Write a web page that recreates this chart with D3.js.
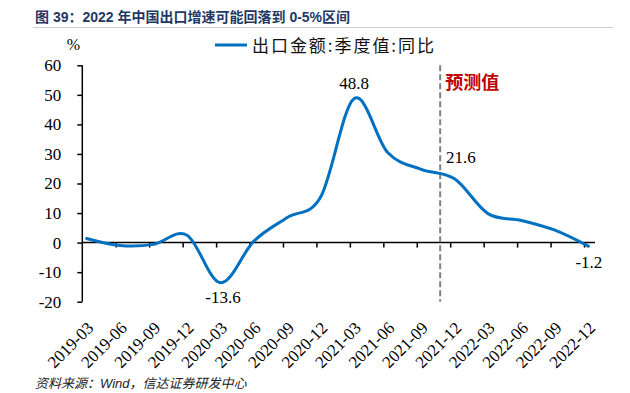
<!DOCTYPE html>
<html>
<head>
<meta charset="utf-8">
<script src="https://cdn.jsdelivr.net/npm/d3@7"></script>
<style>
  body { margin: 0; background: #fff; }
  svg { display: block; }
</style>
</head>
<body>
<svg id="chart" width="630" height="393"></svg>
<script>
// quarterly export growth, yoy %
const quarters = ['2019-03', '2019-06', '2019-09', '2019-12', '2020-03', '2020-06', '2020-09', '2020-12',
  '2021-03', '2021-06', '2021-09', '2021-12', '2022-03', '2022-06', '2022-09', '2022-12'];
const exportYoy = [1.4, -1.0, -0.6, 2.5, -13.6, 0.5, 8.5, 15.5, 48.8, 30.5, 24.8, 21.6, 9.8, 7.5, 4.2, -1.2];
const yTicks = [-20, -10, 0, 10, 20, 30, 40, 50, 60];
const labelled = ['2020-03', '2021-03', '2021-12', '2022-12'];

const seriesName = '出口金额:季度值:同比';
const titleText = '图 39：2022 年中国出口增速可能回落到 0-5%区间';
const sourceText = '资料来源：Wind，信达证券研发中心';

const svg = d3.select('#chart');
const serif = '"Liberation Serif"';
const cjk = '"Noto Sans CJK SC"';
const blue = '#0070c0';
const fmt = d3.formatLocale({ decimal: '.', thousands: ',', grouping: [3], currency: ['', ''], minus: '-' });

// plot frame
const plotLeft = 82.3, plotRight = 584, plotTop = 65.3, plotBottom = 301.7;
const dataShift = 0.13;      // points sit slightly right of the ticks
const forecastAt = 10.7;     // dashed divider, in quarter units

const x = d3.scaleLinear().domain([0, quarters.length - 1]).range([plotLeft, plotRight]);
const y = d3.scaleLinear().domain([-20, 60]).range([plotBottom, plotTop]);

// title
svg.append('text')
  .attr('x', 35).attr('y', 22)
  .style('font-family', '"Liberation Sans", "Noto Sans CJK SC"')
  .attr('font-weight', 'bold').attr('font-size', 14)
  .attr('fill', '#1f3864')
  .text(titleText);
svg.append('line')
  .attr('x1', 33).attr('x2', 613).attr('y1', 27.5).attr('y2', 27.5)
  .attr('stroke', '#d0d0d0').attr('stroke-width', 1);

// unit
svg.append('text')
  .attr('x', 73.5).attr('y', 50)
  .attr('text-anchor', 'middle')
  .style('font-family', serif).attr('font-size', 16)
  .text('%');

// legend
svg.append('line')
  .attr('x1', 215).attr('x2', 247).attr('y1', 45).attr('y2', 45)
  .attr('stroke', blue).attr('stroke-width', 3);
svg.append('text')
  .attr('x', 252).attr('y', 52)
  .style('font-family', cjk).attr('font-size', 17)
  .attr('textLength', 182).attr('lengthAdjust', 'spacing')
  .attr('fill', '#111')
  .text(seriesName);

// y axis
const yAxis = d3.axisLeft(y).tickValues(yTicks).tickSize(5).tickPadding(16).tickFormat(fmt.format('d'));
const gy = svg.append('g')
  .attr('transform', `translate(${plotLeft},0)`)
  .call(yAxis)
  .attr('font-family', 'Liberation Serif');
gy.select('.domain').attr('stroke', '#000').attr('stroke-width', 1.5)
  .attr('d', `M0,${plotTop}V${plotBottom}`);
gy.selectAll('.tick line').attr('stroke', '#000').attr('stroke-width', 1.5);
gy.selectAll('.tick text')
  .style('font-family', serif).attr('font-size', 17).attr('fill', '#000');

// x axis at zero, ticks down
const xAxis = d3.axisBottom(x).tickValues(d3.range(quarters.length)).tickSize(5).tickFormat('');
const gx = svg.append('g')
  .attr('transform', `translate(0,${y(0)})`)
  .call(xAxis);
gx.select('.domain').attr('stroke', '#000').attr('stroke-width', 1.5)
  .attr('d', `M${plotLeft},0H${plotRight + 11}`);
gx.selectAll('.tick line').attr('stroke', '#000').attr('stroke-width', 1.5);
gx.selectAll('.tick').filter((d) => d === 0).remove();

// category labels below the plot, rotated
svg.append('g')
  .attr('font-family', 'Liberation Serif')
  .selectAll('text')
  .data(quarters)
  .join('text')
  .attr('transform', (d, i) => `translate(${x(i) + 8},${plotBottom + 23}) rotate(-45)`)
  .attr('text-anchor', 'end')
  .attr('dy', '0.35em')
  .style('font-family', serif).attr('font-size', 17).attr('fill', '#000')
  .text((d) => d);

// forecast divider
svg.append('line')
  .attr('x1', x(forecastAt)).attr('x2', x(forecastAt))
  .attr('y1', plotTop).attr('y2', plotBottom)
  .attr('stroke', '#808080').attr('stroke-width', 2)
  .attr('stroke-dasharray', '6,3');
svg.append('text')
  .attr('x', x(forecastAt) + 5).attr('y', 89)
  .style('font-family', cjk).attr('font-weight', 'bold').attr('font-size', 18)
  .attr('fill', '#c00000')
  .text('预测值');

// series
const line = d3.line()
  .x((d, i) => x(i + dataShift))
  .y((d) => y(d))
  .curve(d3.curveCardinal.tension(0));
svg.append('path')
  .datum(exportYoy)
  .attr('d', line)
  .attr('fill', 'none')
  .attr('stroke', blue).attr('stroke-width', 3)
  .attr('stroke-linecap', 'round');

// data labels
const labelPlace = {
  '2020-03': { dx: 2.5, dy: 20.5, anchor: 'middle' },
  '2021-03': { dx: 0, dy: -9, anchor: 'middle' },
  '2021-12': { dx: -8.5, dy: -15.5, anchor: 'start' },
  '2022-12': { dx: 0.5, dy: 22, anchor: 'middle' }
};
svg.append('g')
  .attr('font-family', 'Liberation Serif')
  .selectAll('text')
  .data(labelled)
  .join('text')
  .attr('x', (q) => x(quarters.indexOf(q) + dataShift) + labelPlace[q].dx)
  .attr('y', (q) => y(exportYoy[quarters.indexOf(q)]) + labelPlace[q].dy)
  .attr('text-anchor', (q) => labelPlace[q].anchor)
  .style('font-family', serif).attr('font-size', 17).attr('fill', '#000')
  .text((q) => fmt.format('.1f')(exportYoy[quarters.indexOf(q)]));

// source note
svg.append('text')
  .attr('x', 35).attr('y', 388)
  .style('font-family', '"Liberation Sans", "Noto Sans CJK SC"')
  .attr('font-style', 'italic').attr('font-size', 13)
  .attr('fill', '#222')
  .text(sourceText);
</script>
</body>
</html>
